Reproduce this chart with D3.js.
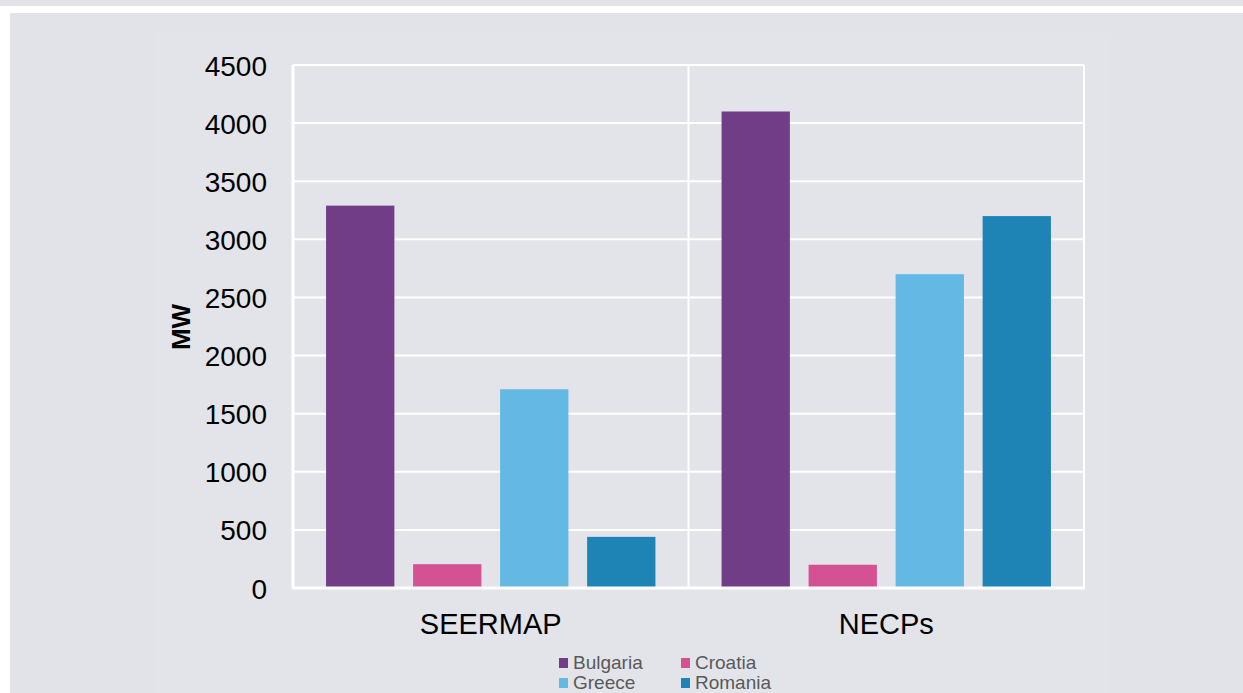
<!DOCTYPE html>
<html><head><meta charset="utf-8">
<script src="https://cdn.jsdelivr.net/npm/d3@7"></script>
<style>body{margin:0;background:#fff;}svg{display:block;font-family:"Liberation Sans",Arial,sans-serif;}</style>
</head><body>
<svg id="c" width="1243" height="693"></svg>
<script>
const categories = ["SEERMAP", "NECPs"];
const seriesNames = ["Bulgaria", "Croatia", "Greece", "Romania"];
const colors = ["#713d86", "#d45193", "#64b8e4", "#1e83b5"];
const values = {
  Bulgaria: [3290, 4100],
  Croatia: [205, 200],
  Greece: [1710, 2700],
  Romania: [440, 3200]
};
const yTicks = [0, 500, 1000, 1500, 2000, 2500, 3000, 3500, 4000, 4500];

const svg = d3.select("#c");
svg.append("rect").attr("x", 0).attr("y", 0).attr("width", 1243).attr("height", 6).attr("fill", "#e2e3e8");
svg.append("rect").attr("x", 10).attr("y", 13).attr("width", 1233).attr("height", 680).attr("fill", "#e2e3e8");
svg.append("rect").attr("x", 155).attr("y", 33).attr("width", 955).attr("height", 660).attr("fill", "#e3e4e9");

const L = 293, R = 1084, T = 65, B = 588;
const x0 = d3.scaleBand().domain(categories).range([L, R]).padding(0);
const x1 = d3.scaleBand().domain(seriesNames).range([0, x0.bandwidth()]).paddingInner(0.215).paddingOuter(0.38);
const y = d3.scaleLinear().domain([0, 4500]).range([B, T]);

// grid
svg.append("g").selectAll("line").data(yTicks).join("line")
  .attr("x1", L).attr("x2", R).attr("y1", d => y(d)).attr("y2", d => y(d))
  .attr("stroke", "#fff").attr("stroke-width", 2);
// vertical borders / separators
[L, x0("NECPs"), R].forEach((xx, i) => {
  svg.append("line").attr("x1", xx).attr("x2", xx).attr("y1", T).attr("y2", B)
    .attr("stroke", "#fff").attr("stroke-width", i === 0 ? 3 : 2);
});

// bars
const g = svg.append("g");
categories.forEach((c, ci) => {
  seriesNames.forEach((s, si) => {
    const v = values[s][ci];
    g.append("rect")
      .attr("x", x0(c) + x1(s)).attr("width", x1.bandwidth())
      .attr("y", y(v)).attr("height", y(0) - y(v))
      .attr("fill", colors[si]);
  });
});
// bottom axis line
svg.append("line").attr("x1", L - 1).attr("x2", R + 1).attr("y1", B).attr("y2", B).attr("stroke", "#fff").attr("stroke-width", 3);

// y axis labels
const yAxis = d3.axisLeft(y).tickValues(yTicks).tickFormat(d3.format("d")).tickSize(0).tickPadding(26);
const ya = svg.append("g").attr("transform", `translate(${L},0)`).call(yAxis);
ya.select(".domain").remove();
ya.selectAll("text").attr("font-size", 28).attr("fill", "#000").attr("font-family", "Liberation Sans, Arial, sans-serif").attr("dy", "0.36em");

// x axis labels
const xAxis = d3.axisBottom(x0).tickSize(0).tickPadding(25);
const xa = svg.append("g").attr("transform", `translate(0,${B})`).call(xAxis);
xa.select(".domain").remove();
xa.selectAll("text").attr("font-size", 29).attr("fill", "#000").attr("font-family", "Liberation Sans, Arial, sans-serif");

// y title
svg.append("text").attr("transform", "translate(190,327) rotate(-90)")
  .attr("text-anchor", "middle").attr("font-size", 26).attr("font-weight", "bold").text("MW");

// legend
const legPos = [[559, 669], [681, 669], [559, 689], [681, 689]];
seriesNames.forEach((s, i) => {
  const [lx, ly] = legPos[i];
  svg.append("rect").attr("x", lx).attr("y", ly - 11).attr("width", 9).attr("height", 10).attr("fill", colors[i]);
  svg.append("text").attr("x", lx + 14).attr("y", ly)
    .attr("font-size", 19).attr("fill", "#595959").text(s);
});
</script>
</body></html>
